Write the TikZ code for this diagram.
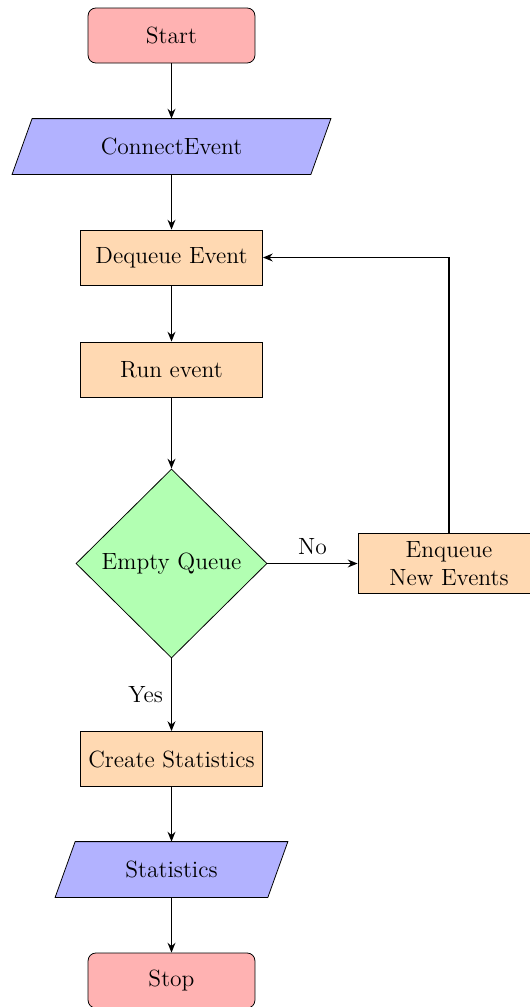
\documentclass[tikz,border=0pt,12pt]{standalone}
\usetikzlibrary{shapes.geometric,backgrounds,calc,arrows.meta}
\begin{document}
\begin{tikzpicture}[x=0.511pt,y=-0.511pt,
  startstop/.style={rectangle, rounded corners=4pt, draw, fill=red!30,
    minimum width=85.3pt, minimum height=28.1pt},
  iobody/.style={rectangle, minimum height=28.1pt},
  iofill/.style={draw, fill=blue!30},
  process/.style={rectangle, draw, fill=orange!30, minimum width=93pt,
    minimum height=28.1pt, align=center},
  decision/.style={diamond, draw, fill=green!30, minimum width=97.6pt,
    minimum height=96.6pt, inner sep=0pt},
  arrow/.style={thick, -{Stealth[length=5pt,width=4pt]}}]
\useasboundingbox (0,0) rectangle (530,1007);

\node[startstop] (start) at (171.5,35.5) {Start};
\node[iobody, minimum width=152.3pt] (ce) at (171.5,146.5) {ConnectEvent};
\node[process] (deq) at (171.5,257.5) {Dequeue Event};
\node[process] (run) at (171.5,369.5) {Run event};
\node[decision] (dec) at (171.5,563.5) {Empty Queue};
\node[process] (enq) at (449,563.5) {Enqueue\\New Events};
\node[process] (cs) at (171.5,759) {Create Statistics};
\node[iobody, minimum width=108.3pt] (st) at (171.5,869.5) {Statistics};
\node[startstop] (stop) at (171.5,980.5) {Stop};

% slanted input/output shapes behind their labels
\begin{scope}[on background layer]
  \draw[iofill] ($(ce.north west)+(10,0)$) -- ($(ce.north east)+(10,0)$)
    -- ($(ce.south east)+(-10,0)$) -- ($(ce.south west)+(-10,0)$) -- cycle;
  \draw[iofill] ($(st.north west)+(10,0)$) -- ($(st.north east)+(10,0)$)
    -- ($(st.south east)+(-10,0)$) -- ($(st.south west)+(-10,0)$) -- cycle;
\end{scope}

\draw[arrow] (start) -- (ce);
\draw[arrow] (ce) -- (deq);
\draw[arrow] (deq) -- (run);
\draw[arrow] (run) -- (dec);
\draw[arrow] (dec) -- node[above] {No} (enq);
\draw[arrow] (enq) |- (deq);
\draw[arrow] (dec) -- node[left] {Yes} (cs);
\draw[arrow] (cs) -- (st);
\draw[arrow] (st) -- (stop);
\end{tikzpicture}
\end{document}
